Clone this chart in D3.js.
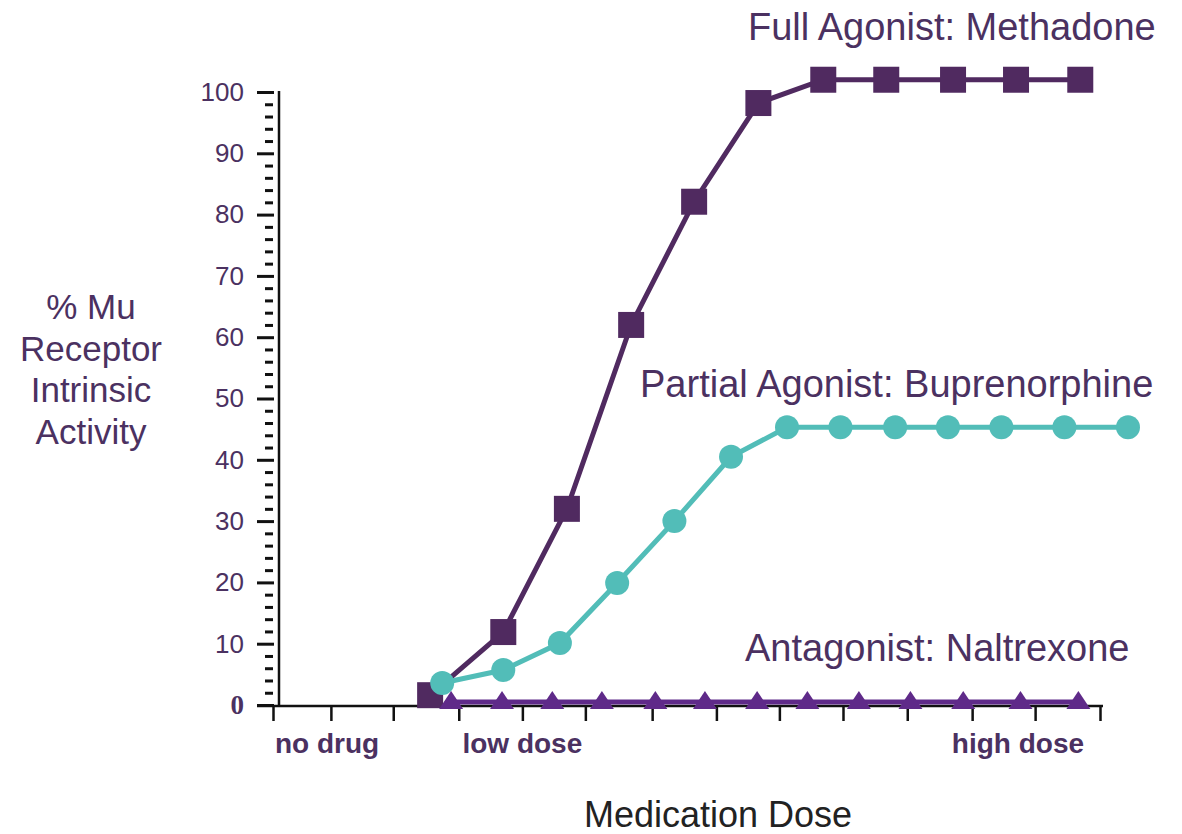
<!DOCTYPE html>
<html>
<head>
<meta charset="utf-8">
<script src="https://cdn.jsdelivr.net/npm/d3@7"></script>
<style>
  body { margin: 0; background: #fff; }
  svg { display: block; font-family: "Liberation Sans", Arial, sans-serif; }
</style>
</head>
<body>
<svg id="chart" width="1182" height="834"></svg>
<script>
// dose positions are in "tick units" along the x axis (0 = first tick)
let doseTicks = [0, 0.91, 1.89, 2.92, 3.92, 4.91, 5.96, 6.97, 7.96, 8.96, 9.97, 10.99, 11.98, 13];
let doseLabels = ["no drug", "low dose", "high dose"];
let doseLabelPos = [0.85, 3.92, 11.71];

let activityTicks = [0, 10, 20, 30, 40, 50, 60, 70, 80, 90, 100];

let methadoneDose = [2.47, 3.62, 4.62, 5.63, 6.62, 7.63, 8.65, 9.64, 10.69, 11.68, 12.69];
let methadoneActivity = [1.6, 11.9, 32, 62, 82.1, 98.2, 102, 102, 102, 102, 102];

let buprenorphineDose = [2.66, 3.62, 4.51, 5.41, 6.31, 7.2, 8.08, 8.92, 9.78, 10.61, 11.45, 12.44, 13.44];
let buprenorphineActivity = [3.6, 5.7, 10.1, 19.9, 30, 40.5, 45.3, 45.3, 45.3, 45.3, 45.3, 45.3, 45.3];

let naltrexoneDose = [2.8, 3.6, 4.39, 5.17, 6.01, 6.79, 7.61, 8.4, 9.21, 10.02, 10.85, 11.75, 12.66];
let naltrexoneActivity = [0.5, 0.5, 0.5, 0.5, 0.5, 0.5, 0.5, 0.5, 0.5, 0.5, 0.5, 0.5, 0.5];

let textColor = "#4b3161";
let methadoneColor = "#502a60";
let buprenorphineColor = "#52bdb8";
let naltrexoneColor = "#5f2a89";

let svg = d3.select("#chart");

let x = d3.scaleLinear().domain([0, 13]).range([273, 1100]);
let y = d3.scaleLinear().domain([0, 100]).range([705, 92]);

// y axis: spine, major + minor ticks
svg.append("line")
  .attr("x1", x(0) + 6).attr("x2", x(0) + 6)
  .attr("y1", y(100) - 1).attr("y2", y(0) + 2)
  .attr("stroke", "#111").attr("stroke-width", 2.5);

let minorTicks = d3.range(0, 101, 2).filter(d => d % 10 != 0);

let yMinor = svg.append("g")
  .attr("transform", "translate(" + (x(0)) + ",0)")
  .call(d3.axisLeft(y).tickValues(minorTicks).tickSize(8).tickFormat(""));
yMinor.select(".domain").remove();
yMinor.selectAll("line").attr("stroke", "#111").attr("stroke-width", 3);

let yMajor = svg.append("g")
  .attr("transform", "translate(" + (x(0) + 1) + ",0)")
  .call(d3.axisLeft(y).tickValues(activityTicks).tickSize(17).tickPadding(13));
yMajor.select(".domain").remove();
yMajor.selectAll("line").attr("stroke", "#111").attr("stroke-width", 3);
yMajor.selectAll("text")
  .attr("fill", textColor)
  .style("font-family", "'Liberation Sans', Arial, sans-serif")
  .style("font-size", "26px");
yMajor.selectAll("text").filter(d => d == 0)
  .style("font-family", "'Liberation Serif', 'Times New Roman', serif")
  .style("font-weight", "bold")
  .style("font-size", "27px");

// x axis
svg.append("line")
  .attr("x1", x(0) - 16).attr("x2", x(13) + 3)
  .attr("y1", y(0) + 1).attr("y2", y(0) + 1)
  .attr("stroke", "#111").attr("stroke-width", 2.5);

let xAxis = svg.append("g")
  .attr("transform", "translate(0," + (y(0) + 1) + ")")
  .call(d3.axisBottom(x).tickValues(doseTicks).tickSize(15).tickFormat(""));
xAxis.select(".domain").remove();
xAxis.selectAll("line").attr("stroke", "#111").attr("stroke-width", 2.5);

svg.append("g")
  .selectAll("text")
  .data(doseLabels)
  .enter()
  .append("text")
  .attr("x", (d, i) => x(doseLabelPos[i]))
  .attr("y", 753)
  .attr("text-anchor", "middle")
  .attr("fill", textColor)
  .style("font-weight", "bold")
  .style("font-size", "28px")
  .text(d => d);

// axis titles
svg.append("text")
  .attr("x", 718).attr("y", 827)
  .attr("text-anchor", "middle")
  .attr("fill", "#222")
  .style("font-size", "36px")
  .text("Medication Dose");

let yTitle = ["% Mu", "Receptor", "Intrinsic", "Activity"];
svg.append("g")
  .selectAll("text")
  .data(yTitle)
  .enter()
  .append("text")
  .attr("x", 91)
  .attr("y", (d, i) => 319 + i * 41.5)
  .attr("text-anchor", "middle")
  .attr("fill", textColor)
  .style("font-size", "35px")
  .text(d => d);

// series
function points(doses, values) {
  return doses.map((d, i) => ({dose: d, value: values[i]}));
}
let line = d3.line().x(d => x(d.dose)).y(d => y(d.value));

let methadone = points(methadoneDose, methadoneActivity);
let buprenorphine = points(buprenorphineDose, buprenorphineActivity);
let naltrexone = points(naltrexoneDose, naltrexoneActivity);

svg.append("path")
  .datum(methadone)
  .attr("d", line)
  .attr("fill", "none")
  .attr("stroke", methadoneColor)
  .attr("stroke-width", 5);

svg.selectAll(".methadone")
  .data(methadone)
  .enter()
  .append("rect")
  .attr("class", "methadone")
  .attr("x", d => x(d.dose) - 13)
  .attr("y", d => y(d.value) - 13)
  .attr("width", 26)
  .attr("height", 26)
  .attr("fill", methadoneColor);

svg.append("path")
  .datum(buprenorphine)
  .attr("d", line)
  .attr("fill", "none")
  .attr("stroke", buprenorphineColor)
  .attr("stroke-width", 5);

svg.selectAll(".bup")
  .data(buprenorphine)
  .enter()
  .append("circle")
  .attr("class", "bup")
  .attr("cx", d => x(d.dose))
  .attr("cy", d => y(d.value))
  .attr("r", 12)
  .attr("fill", buprenorphineColor);

svg.append("path")
  .datum(naltrexone)
  .attr("d", line)
  .attr("fill", "none")
  .attr("stroke", naltrexoneColor)
  .attr("stroke-width", 5);

svg.selectAll(".nal")
  .data(naltrexone)
  .enter()
  .append("path")
  .attr("class", "nal")
  .attr("transform", d => "translate(" + x(d.dose) + "," + y(d.value) + ")")
  .attr("d", "M-12,7L0,-11L12,7Z")
  .attr("fill", naltrexoneColor);

// series titles
let seriesTitles = ["Full Agonist: Methadone", "Partial Agonist: Buprenorphine", "Antagonist: Naltrexone"];
let titlePos = [[748, 40], [640, 397], [745, 661]];
svg.append("g")
  .selectAll("text")
  .data(seriesTitles)
  .enter()
  .append("text")
  .attr("x", (d, i) => titlePos[i][0])
  .attr("y", (d, i) => titlePos[i][1])
  .attr("fill", textColor)
  .style("font-size", "38px")
  .text(d => d);
</script>
</body>
</html>
